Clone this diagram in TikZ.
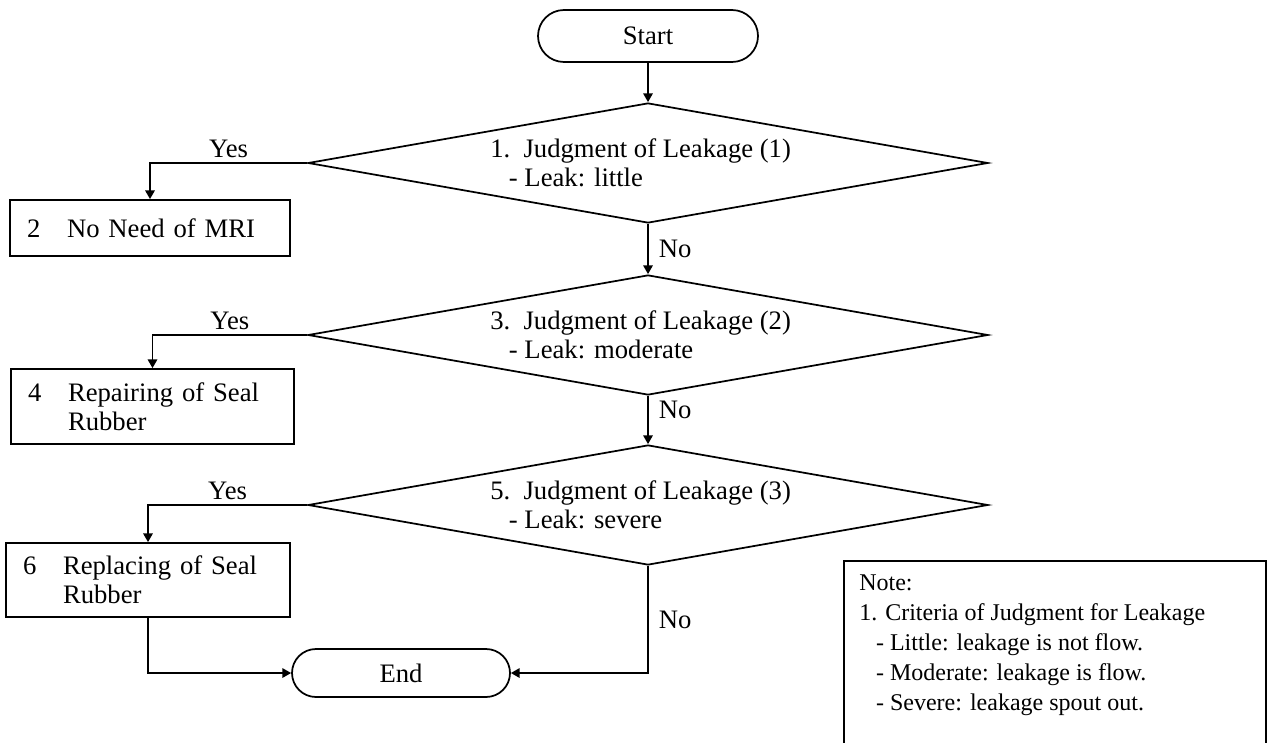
\documentclass[tikz,border=0pt]{standalone}
\usepackage{fontspec}
\setmainfont{Liberation Serif}
\usetikzlibrary{shapes.geometric,shapes.misc,arrows.meta}
\begin{document}
\begin{tikzpicture}[x=0.75pt,y=-0.75pt,
  every node/.style={font=\fontsize{20pt}{21.5pt}\selectfont},
  thick line/.style={line width=1.3pt},
  termbox/.style={rounded rectangle, draw, thick line, inner sep=0pt},
  decision/.style={diamond, draw, thick line, minimum width=510pt, minimum height=90pt, inner sep=0pt},
  procbox/.style={rectangle, draw, thick line, align=left, inner xsep=12.75pt, inner ysep=0pt},
  arr/.style={thick line, -{Triangle[length=6.5pt,width=7pt]}},
  txt/.style={inner sep=0pt, align=left},
  yeslbl/.style={pos=0.25, above=3pt, inner sep=0pt},
  nolbl/.style={right=7.5pt, inner sep=0pt},
  notefont/.style={font=\fontsize{18pt}{22.5pt}\selectfont}
]
\useasboundingbox (0,0) rectangle (1273,742);
\clip (0,0) rectangle (1273,742);

% terminals
\node[termbox, minimum width=165pt, minimum height=39pt] (start) at (648,36) {Start};
\node[termbox, minimum width=163.5pt, minimum height=36pt] (end) at (401,673) {End};

% decisions
\node[decision] (d1) at (648,163) {};
\node[decision] (d2) at (648,335) {};
\node[decision] (d3) at (648,505) {};

\node[txt, anchor=west] (t1) at (490,163) {1.\ \ Judgment of Leakage (1)\\\hspace*{0.7em}- Leak: little};
\node[txt, anchor=west] (t2) at (490,335) {3.\ \ Judgment of Leakage (2)\\\hspace*{0.7em}- Leak: moderate};
\node[txt, anchor=west] (t3) at (490,505) {5.\ \ Judgment of Leakage (3)\\\hspace*{0.7em}- Leak: severe};

% processes
\node[procbox, minimum width=210pt, minimum height=42pt, text width=184.5pt] (b2) at (150,228)
  {\makebox[30pt][l]{2}No Need of MRI};
\node[procbox, minimum width=212.25pt, minimum height=56.25pt, text width=186.75pt] (b4) at (152.5,406.5)
  {\makebox[30pt][l]{4}Repairing of Seal\\\hspace*{30pt}Rubber};
\node[procbox, minimum width=213pt, minimum height=55.5pt, text width=187.5pt] (b6) at (148,580)
  {\makebox[30pt][l]{6}Replacing of Seal\\\hspace*{30pt}Rubber};

% connectors
\draw[arr] (start.south) -- (d1.north);
\draw[arr] (d1.west) -| node[yeslbl] {Yes} (b2.north);
\draw[arr] (d1.south) -- node[nolbl] {No} (d2.north);
\draw[arr] (d2.west) -| node[yeslbl] {Yes} (b4.north);
\draw[arr] (d2.south) -- node[nolbl, pos=0.3] {No} (d3.north);
\draw[arr] (d3.west) -| node[yeslbl] {Yes} (b6.north);
\draw[arr] (b6.south) |- (end.west);
\draw[arr] (d3.south) |- node[nolbl, pos=0.25] {No} (end.east);

% note
\node[draw, thick line, minimum width=316.5pt, minimum height=150pt, anchor=north west, inner sep=0pt] (note) at (843,560) {};
\node[txt, notefont, anchor=north west] (notetext) at (859,575)
  {Note:\\1. Criteria of Judgment for Leakage\\
   \hspace*{0.7em}- Little: leakage is not flow.\\
   \hspace*{0.7em}- Moderate: leakage is flow.\\
   \hspace*{0.7em}- Severe: leakage spout out.};
\end{tikzpicture}
\end{document}
